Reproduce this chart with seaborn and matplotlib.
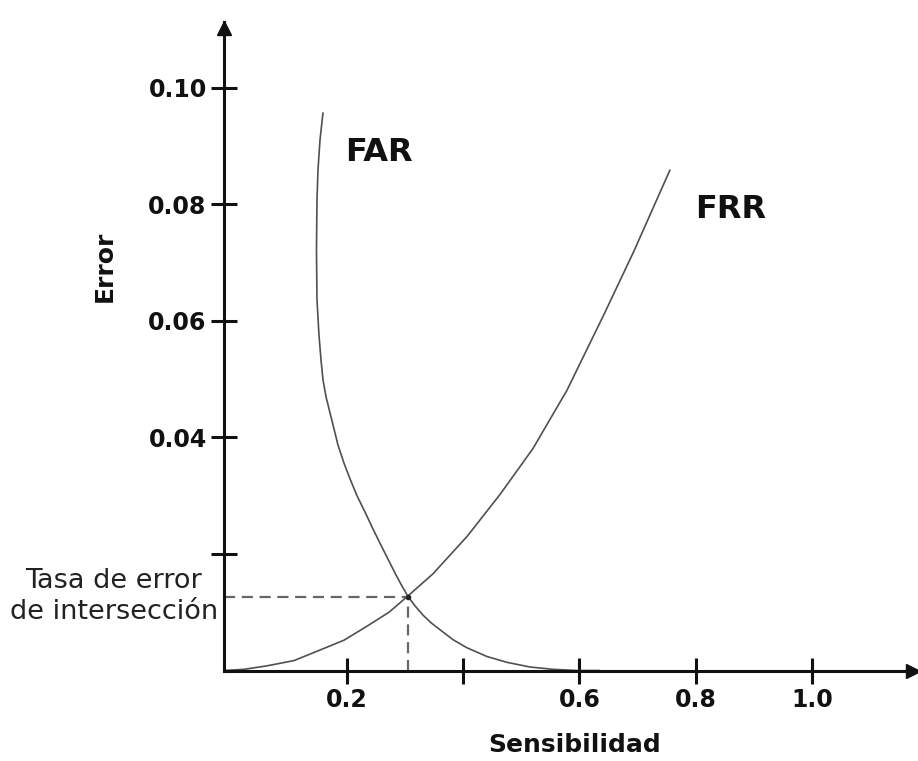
import numpy as np
import pandas as pd
import matplotlib
matplotlib.use("Agg")
import matplotlib.pyplot as plt
import matplotlib.transforms as mtransforms
import seaborn as sns

# ---- data ----
far_x = [0.1587, 0.1536, 0.1501, 0.1484, 0.1475, 0.1484, 0.1518, 0.1553, 0.1587,
         0.1639, 0.1708, 0.1776, 0.1845, 0.1948, 0.2052, 0.2172, 0.2310, 0.2447,
         0.2585, 0.2722, 0.2843, 0.2946, 0.3050, 0.3170, 0.3308, 0.3445, 0.3600,
         0.3823, 0.4064, 0.4409, 0.4753, 0.5149, 0.5544, 0.5957, 0.6353]
far_y = [0.0957, 0.0911, 0.0859, 0.0808, 0.0722, 0.0636, 0.0576, 0.0533, 0.0499,
         0.0470, 0.0442, 0.0415, 0.0387, 0.0356, 0.0329, 0.0300, 0.0272, 0.0243,
         0.0215, 0.0188, 0.0164, 0.0145, 0.0127, 0.0111, 0.0095, 0.0082, 0.0070,
         0.0053, 0.0039, 0.0024, 0.0014, 0.0006, 0.0002, 0.0000, 0.0]

frr_x = [-0.0116, 0.0228, 0.0624, 0.1088, 0.1484, 0.1948, 0.2344, 0.2723, 0.3050,
         0.3480, 0.4065, 0.4632, 0.5200, 0.5785, 0.6421, 0.6938, 0.7557]
frr_y = [0.0, 0.0002, 0.0008, 0.0017, 0.0033, 0.0052, 0.0076, 0.0100, 0.0128,
         0.0166, 0.0230, 0.0302, 0.0381, 0.0481, 0.0611, 0.0720, 0.0859]

eer_x = 0.305
eer_y = 0.0127

x_ticks = [0.2, 0.4, 0.6, 0.8, 1.0]
x_tick_labels = ["0.2", "", "0.6", "0.8", "1.0"]
y_ticks = [0.02, 0.04, 0.06, 0.08, 0.10]
y_tick_labels = ["", "0.04", "0.06", "0.08", "0.10"]

sns.set_theme(style="white")
plt.rcParams['font.family'] = ['DejaVu Sans']

fig = plt.figure(figsize=(9.18, 7.61), dpi=100)
ax = fig.add_axes([224/918, 1 - 670.5/761, 692/918, 648.5/761])

far_df = pd.DataFrame({"x": far_x, "y": far_y})
frr_df = pd.DataFrame({"x": frr_x, "y": frr_y})
sns.lineplot(data=far_df, x="x", y="y", sort=False, estimator=None,
             color="#505050", linewidth=1.2, ax=ax)
sns.lineplot(data=frr_df, x="x", y="y", sort=False, estimator=None,
             color="#505050", linewidth=1.2, ax=ax)

# dashed guides to the intersection
ax.plot([-0.0116, eer_x], [eer_y, eer_y], linestyle=(0, (5, 3)), color="#666666", linewidth=1.6)
ax.plot([eer_x, eer_x], [0, eer_y], linestyle=(0, (5, 3)), color="#666666", linewidth=1.6)
ax.plot([eer_x], [eer_y], marker="o", markersize=3, color="#222222")

ax.set_xlim(-0.0116, 1.179)
ax.set_ylim(0, 0.1113)

for s in ["top", "right"]:
    ax.spines[s].set_visible(False)
for s in ["left", "bottom"]:
    ax.spines[s].set_linewidth(2.2)
    ax.spines[s].set_color("#111111")

# arrow heads
ax.plot(0.995, 0, marker=">", markersize=10, color="#111111",
        transform=ax.get_yaxis_transform(), clip_on=False)
ax.plot(-0.0116, 0.99, marker="^", markersize=10, color="#111111",
        transform=ax.get_xaxis_transform(), clip_on=False)

ax.set_xticks(x_ticks)
ax.set_xticklabels(x_tick_labels, fontsize=17, fontweight="bold")
ax.set_yticks(y_ticks)
ax.set_yticklabels(y_tick_labels, fontsize=17, fontweight="bold")
ax.tick_params(axis="both", direction="inout", length=19, width=2.2, colors="#111111",
               bottom=True, left=True)
ax.tick_params(axis="x", pad=3)
ax.tick_params(axis="y", pad=3)
ax.grid(False)

ax.set_xlabel("Sensibilidad", fontsize=18, fontweight="bold", color="#111111")
ax.xaxis.set_label_coords(0.506, -0.097)
ax.set_ylabel("Error", fontsize=18, fontweight="bold", color="#111111")
ax.yaxis.set_label_coords(-0.155, 0.624)

ax.text(0.255, 0.0889, "FAR", fontsize=23, fontweight="bold", ha="center", va="center", color="#111111")
ax.text(0.861, 0.0791, "FRR", fontsize=23, fontweight="bold", ha="center", va="center", color="#111111")

trans = mtransforms.blended_transform_factory(ax.transAxes, ax.transData)
ax.text(-0.009, eer_y, "Tasa de error\nde intersección", fontsize=19.5, ha="right", va="center",
        multialignment="center", transform=trans, color="#222222", linespacing=1.25)

fig.savefig("out.png", dpi=100)
